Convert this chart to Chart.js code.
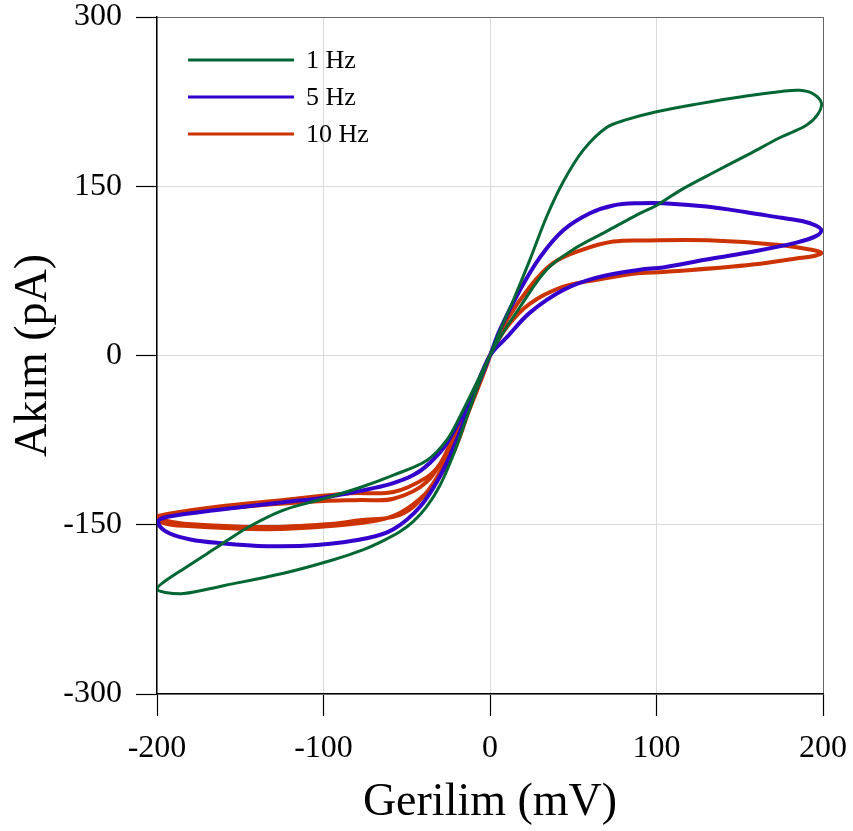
<!DOCTYPE html>
<html>
<head>
<meta charset="utf-8">
<title>Akım - Gerilim</title>
<script src="https://cdn.jsdelivr.net/npm/chart.js@4.4.1/dist/chart.umd.min.js"></script>
<style>
  html, body { margin: 0; padding: 0; background: #ffffff; }
  #wrap { width: 853px; height: 831px; position: relative; }
</style>
</head>
<body>
<div id="wrap"><canvas id="ivChart"></canvas></div>
<script>
// Series labels and colours
const seriesLabels = ['1 Hz', '5 Hz', '10 Hz'];
const seriesColors = ['#006633', '#3300cc', '#cc3300'];

// Axis ticks
const xTicks = [-200, -100, 0, 100, 200];
const yTicks = [-300, -150, 0, 150, 300];

// 1 Hz loop (voltage mV, current pA), in drawing order
const volt1Hz = [0, 6, 14, 24, 34, 44, 56, 70, 82, 100, 125, 154, 175, 186, 194, 199, 197, 190, 174, 155, 134, 115, 100, 90, 70, 50, 34, 18, 6, 0,
  -6, -18, -26, -38, -58, -78, -100, -124, -145, -164, -185, -197, -200, -195, -184, -160, -124, -94, -76, -64, -54, -46, -38, -30, -22, -14, -6, 0];
const amp1Hz = [0, 22, 49, 85, 123, 154, 182, 202, 209, 216, 223, 230, 234, 235, 232, 224, 214, 204, 193, 178, 162, 147, 133, 126, 110, 94, 76, 43, 16, 0,
  -18, -54, -75, -93, -106, -117, -127, -137, -152, -170, -190, -202, -207, -210, -211, -204, -193, -181, -172, -164, -156, -147, -134, -115, -88, -55, -22, 0];

// 5 Hz loop
const volt5Hz = [0, 6, 18, 30, 44, 60, 74, 90, 104, 130, 154, 175, 188, 196, 199, 196, 184, 154, 130, 104, 90, 64, 44, 24, 10, 0,
  -10, -26, -36, -46, -60, -78, -100, -124, -164, -190, -199, -198, -192, -180, -164, -134, -104, -74, -58, -42, -30, -20, -10, 0];
const amp5Hz = [0, 23, 58, 87, 111, 126, 133, 135, 135, 132, 127, 122, 119, 115, 111, 106, 100, 91, 85, 78, 76, 69, 58, 38, 16, 0,
  -33, -78, -95, -106, -114, -120, -126, -130, -137, -142, -146, -152, -158, -163, -166, -169, -168, -162, -154, -134, -107, -75, -36, 0];

// 10 Hz loop (the negative half is traced twice)
const volt10Hz = [0, 10, 24, 38, 54, 74, 94, 134, 174, 192, 199, 194, 184, 154, 104, 90, 64, 44, 24, 10, 0,
  -10, -22, -30, -38, -58, -84, -124, -164, -192, -200, -196, -184, -134, -94, -78, -58, -46, -34, -22, -14, 0,
  -12, -24, -38, -58, -78, -100, -140, -180, -199, -197, -184, -134, -94, -64, -50, -36, -22, -12, 0];
const amp10Hz = [0, 31, 61, 82, 93, 101, 102, 102, 98, 94, 91, 88, 86, 80, 74, 73, 67, 61, 46, 25, 0,
  -36, -72, -96, -108, -121, -122, -128, -134, -140, -143, -146, -149, -152, -149, -146, -143, -134, -113, -81, -54, 0,
  -42, -80, -112, -127, -128, -129, -133, -139, -144, -148, -151, -154, -151, -145, -136, -118, -86, -46, 0];

function toPoints(xs, ys) {
  return xs.map((x, i) => ({ x: x, y: ys[i] }));
}

const seriesPoints = [
  toPoints(volt1Hz, amp1Hz),
  toPoints(volt5Hz, amp5Hz),
  toPoints(volt10Hz, amp10Hz)
];
const seriesWidths = [3, 4, 4];

const serif = "'Liberation Serif', 'Times New Roman', serif";

// Legend drawn inside the plot, top-left
const insideLegend = {
  id: 'insideLegend',
  afterDatasetsDraw(chart) {
    const ctx = chart.ctx;
    const area = chart.chartArea;
    ctx.save();
    ctx.font = '26px ' + serif;
    ctx.textBaseline = 'middle';
    ctx.textAlign = 'left';
    chart.data.datasets.forEach((ds, i) => {
      const y = area.top + 43 + i * 37;
      ctx.strokeStyle = ds.borderColor;
      ctx.lineWidth = 3;
      ctx.beginPath();
      ctx.moveTo(area.left + 31, y);
      ctx.lineTo(area.left + 137, y);
      ctx.stroke();
      ctx.fillStyle = '#000000';
      ctx.fillText(ds.label, area.left + 149, y + 1);
    });
    ctx.restore();
  }
};

const edgeGrid = (ctx, maxVal) => ctx.tick && ctx.tick.value === maxVal ? '#666666' : '#d9d9d9';

// fixed scale sizes, no extra room for overflowing tick labels
function fitX(scale) {
  scale.height = 137;
  scale.paddingLeft = 0;
  scale.paddingRight = 0;
}
function fitY(scale) {
  scale.width = 157;
  scale.paddingTop = 0;
  scale.paddingBottom = 0;
}

const ctx = document.getElementById('ivChart').getContext('2d');
const ivChart = new Chart(ctx, {
  type: 'scatter',
  data: {
    datasets: seriesLabels.map((label, i) => ({
      label: label,
      data: seriesPoints[i],
      showLine: true,
      borderColor: seriesColors[i],
      backgroundColor: seriesColors[i],
      borderWidth: seriesWidths[i],
      pointRadius: 0,
      tension: 0.35,
      fill: false
    }))
  },
  options: {
    responsive: true,
    maintainAspectRatio: false,
    animation: false,
    layout: { padding: { top: 17, right: 30, left: 0, bottom: 0 } },
    plugins: {
      legend: { display: false },
      tooltip: { enabled: false }
    },
    scales: {
      x: {
        type: 'linear',
        min: -200,
        max: 200,
        afterBuildTicks: scale => { scale.ticks = xTicks.map(v => ({ value: v })); },
        afterFit: fitX,
        grid: {
          color: c => edgeGrid(c, 200),
          lineWidth: 1,
          tickLength: 22,
          tickColor: '#000000',
          tickWidth: 1.2
        },
        border: { color: '#000000', width: 1.5 },
        ticks: {
          color: '#000000',
          font: { family: serif, size: 32 },
          padding: 13,
          maxRotation: 0
        },
        title: {
          display: true,
          text: 'Gerilim (mV)',
          color: '#000000',
          font: { family: serif, size: 46 },
          padding: { top: 6, bottom: 0 }
        }
      },
      y: {
        type: 'linear',
        min: -300,
        max: 300,
        afterBuildTicks: scale => { scale.ticks = yTicks.map(v => ({ value: v })); },
        afterFit: fitY,
        grid: {
          color: c => edgeGrid(c, 300),
          lineWidth: 1,
          tickLength: 21,
          tickColor: '#000000',
          tickWidth: 1.2
        },
        border: { color: '#000000', width: 1.5 },
        ticks: {
          color: '#000000',
          font: { family: serif, size: 32 },
          padding: 14
        },
        title: {
          display: true,
          text: 'Akım (pA)',
          color: '#000000',
          font: { family: serif, size: 46 },
          padding: { top: 6, bottom: 0 }
        }
      }
    }
  },
  plugins: [insideLegend]
});
</script>
</body>
</html>
